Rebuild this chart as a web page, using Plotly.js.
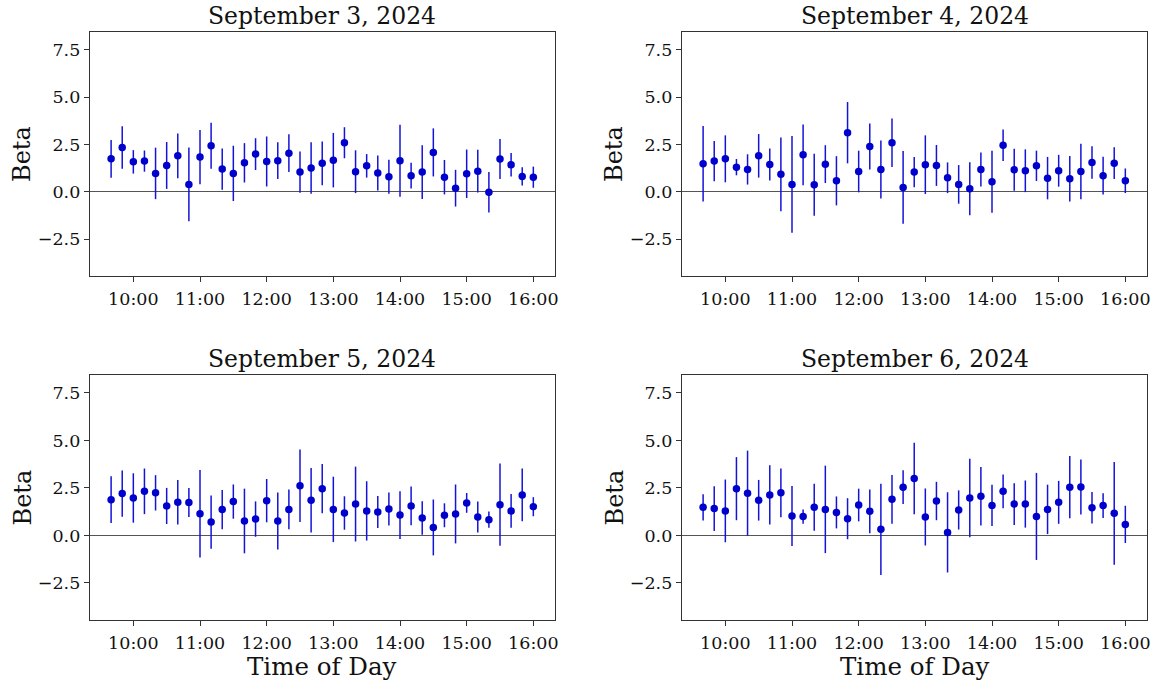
<!DOCTYPE html>
<html>
<head>
<meta charset="utf-8">
<script src="https://cdn.plot.ly/plotly-3.0.1.min.js"></script>
<style>html,body{margin:0;padding:0;background:#fff;}#chart{width:1156px;height:683px;}</style>
</head>
<body>
<div id="chart"></div>
<script>
const times = ['09:40','09:50','10:00','10:10','10:20','10:30','10:40','10:50','11:00','11:10','11:20','11:30','11:40','11:50','12:00','12:10','12:20','12:30','12:40','12:50','13:00','13:10','13:20','13:30','13:40','13:50','14:00','14:10','14:20','14:30','14:40','14:50','15:00','15:10','15:20','15:30','15:40','15:50','16:00'];
const days = ['2024-09-03','2024-09-04','2024-09-05','2024-09-06'];
const dayTitles = ['September 3, 2024','September 4, 2024','September 5, 2024','September 6, 2024'];

const beta_sep3 = [1.74,2.34,1.58,1.62,0.97,1.39,1.90,0.39,1.83,2.43,1.20,0.97,1.53,1.99,1.60,1.64,2.04,1.04,1.25,1.50,1.67,2.59,1.06,1.37,0.99,0.79,1.64,0.85,1.04,2.08,0.77,0.19,0.95,1.09,-0.02,1.73,1.43,0.81,0.77];
const err_sep3  = [1.00,1.12,0.62,0.56,1.36,1.24,1.18,1.95,1.43,1.21,1.09,1.46,1.04,0.84,1.32,0.97,1.00,1.09,1.36,1.16,1.44,0.82,1.13,0.62,0.92,0.90,1.90,0.68,1.42,1.27,0.91,0.97,1.28,1.13,1.07,1.06,0.62,0.48,0.56];

const beta_sep4 = [1.48,1.62,1.74,1.30,1.18,1.90,1.44,0.92,0.39,1.95,0.37,1.46,0.58,3.12,1.07,2.39,1.18,2.59,0.23,1.04,1.43,1.39,0.74,0.39,0.16,1.18,0.53,2.46,1.16,1.11,1.37,0.72,1.11,0.69,1.07,1.55,0.85,1.51,0.58];
const err_sep4  = [2.00,1.06,1.24,0.43,0.80,1.15,0.84,1.95,2.55,1.60,1.64,1.00,1.30,1.62,1.10,1.22,1.53,1.28,1.92,0.80,1.55,1.08,0.81,1.02,1.40,0.90,1.64,0.83,1.11,1.13,0.80,1.12,0.84,1.20,1.47,0.86,1.00,0.84,0.65];

const beta_sep5 = [1.88,2.20,1.97,2.32,2.24,1.55,1.74,1.73,1.14,0.70,1.36,1.78,0.76,0.86,1.83,0.76,1.37,2.61,1.85,2.46,1.37,1.18,1.65,1.29,1.23,1.39,1.07,1.55,0.92,0.42,1.06,1.13,1.71,0.97,0.83,1.62,1.29,2.13,1.51];
const err_sep5  = [1.23,1.22,1.30,1.20,0.93,0.95,1.17,0.76,2.30,1.40,1.03,0.90,1.70,0.93,1.14,1.50,1.05,1.91,1.70,1.30,1.72,0.88,1.97,1.56,0.84,0.87,1.26,1.02,0.88,1.47,0.63,1.55,0.52,0.82,0.43,2.17,0.89,1.39,0.50];

const beta_sep6 = [1.48,1.41,1.29,2.46,2.22,1.85,2.13,2.24,1.02,0.99,1.48,1.37,1.21,0.88,1.60,1.27,0.32,1.90,2.54,3.00,0.97,1.81,0.16,1.34,1.97,2.06,1.58,2.32,1.65,1.65,1.00,1.37,1.74,2.54,2.55,1.46,1.57,1.16,0.58];
const err_sep6  = [0.69,1.18,1.65,1.66,2.24,1.07,1.56,1.28,1.58,0.38,1.24,2.30,0.84,1.08,0.86,1.15,2.40,1.28,0.89,1.88,1.50,1.01,2.11,1.03,2.06,1.54,1.08,0.89,1.10,1.24,2.29,1.30,1.13,1.64,1.45,0.83,0.65,2.70,0.98];

const allBeta = [beta_sep3, beta_sep4, beta_sep5, beta_sep6];
const allErr = [err_sep3, err_sep4, err_sep5, err_sep6];

const W = 1156, H = 683;
const colDom = [[90/W, 555/W], [682/W, 1147/W]];
const rowDom = [[1-276/H, 1-32/H], [1-620/H, 1-375/H]];
const FONT = 'DejaVu Serif, Liberation Serif, serif';
const BLUE = '#0000CD';

const traces = [];
const layout = {
  width: W, height: H,
  margin: {l:0, r:0, t:0, b:0},
  paper_bgcolor: '#fff', plot_bgcolor: '#fff',
  showlegend: false,
  font: {family: FONT, color: '#111', size: 17},
  annotations: []
};

for (let i = 0; i < 4; i++) {
  const r = Math.floor(i/2), c = i % 2;
  const ax = i === 0 ? '' : String(i+1);
  const x = times.map(t => days[i] + ' ' + t);
  traces.push({
    type: 'scatter', mode: 'markers',
    x: x, y: allBeta[i],
    xaxis: 'x' + ax, yaxis: 'y' + ax,
    marker: {color: BLUE, size: 7.5},
    error_y: {type: 'data', array: allErr[i], visible: true, color: '#1414D8', thickness: 1.5, width: 0}
  });
  layout['xaxis' + ax] = {
    domain: colDom[c], anchor: 'y' + ax, type: 'date',
    range: [days[i] + ' 09:21', days[i] + ' 16:19:30'],
    tickformat: '%H:%M', dtick: 3600000, tick0: days[i] + ' 10:00',
    showgrid: false, zeroline: false,
    showline: true, mirror: true, linecolor: '#333', linewidth: 1.2,
    ticks: 'outside', ticklen: 5, tickcolor: '#333',
    ticklabelstandoff: 2,
    tickfont: {family: FONT, size: 17.5, color: '#111'}
  };
  layout['yaxis' + ax] = {
    domain: rowDom[r], anchor: 'x' + ax,
    range: [-4.45, 8.44],
    tickvals: [-2.5, 0, 2.5, 5, 7.5], ticktext: ['−2.5', '0.0', '2.5', '5.0', '7.5'],
    showgrid: false,
    zeroline: true, zerolinecolor: '#555', zerolinewidth: 1.2,
    showline: true, mirror: true, linecolor: '#333', linewidth: 1.2,
    ticks: 'outside', ticklen: 5, tickcolor: '#333',
    tickfont: {family: FONT, size: 17.5, color: '#111'}
  };
  layout.annotations.push({
    text: dayTitles[i], xref: 'paper', yref: 'paper',
    x: (colDom[c][0] + colDom[c][1]) / 2, y: rowDom[r][1],
    xanchor: 'center', yanchor: 'bottom', yshift: 0, showarrow: false,
    font: {family: FONT, size: 23.5, color: '#111'}
  });
  layout.annotations.push({
    text: 'Beta', xref: 'paper', yref: 'paper',
    x: colDom[c][0], y: (rowDom[r][0] + rowDom[r][1]) / 2,
    xanchor: 'center', yanchor: 'middle', xshift: -68, textangle: -90, showarrow: false,
    font: {family: FONT, size: 24, color: '#111'}
  });
  if (r === 1) {
    layout.annotations.push({
      text: 'Time of Day', xref: 'paper', yref: 'paper',
      x: (colDom[c][0] + colDom[c][1]) / 2, y: rowDom[r][0],
      xanchor: 'center', yanchor: 'middle', yshift: -46, showarrow: false,
      font: {family: FONT, size: 24.5, color: '#111'}
    });
  }
}

Plotly.newPlot('chart', traces, layout, {displayModeBar: false, staticPlot: true});
</script>
</body>
</html>
